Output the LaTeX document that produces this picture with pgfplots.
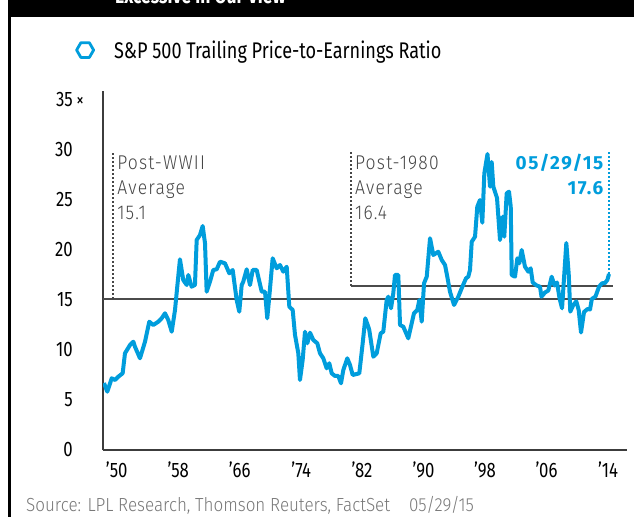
\documentclass[border=0pt]{standalone}
\usepackage{pgfplots}
\pgfplotsset{compat=1.18}
\usepackage{fontspec}
\setmainfont{Fira Sans}[FakeStretch=0.80]
\newfontfamily\lightfont{Fira Sans Light}[FakeStretch=0.88, LetterSpace=6]
\newfontfamily\srcfont{Fira Sans Light}[FakeStretch=0.90]
\newfontfamily\bluefont{Fira Sans}[FakeStretch=1.0, LetterSpace=8]
\usetikzlibrary{shapes.geometric}
\definecolor{lplblue}{RGB}{0,157,220}
\definecolor{avggray}{RGB}{75,75,75}
\definecolor{axgray}{RGB}{60,60,60}
\definecolor{txtgray}{RGB}{70,70,70}
\definecolor{srcgray}{RGB}{120,120,120}
\begin{document}
\begin{tikzpicture}
\useasboundingbox (0,0) rectangle (634bp,517bp);
\fill[white] (0,0) rectangle (634bp,517bp);
\fill[black] (8bp,500bp) rectangle (634bp,517bp);
\node[anchor=base west, text=white, font=\fontsize{22}{26}\selectfont\bfseries, inner sep=0pt] at (115bp,513bp) {Excessive in Our View};
\draw[black, line width=2.5bp] (9.5bp,0) -- (9.5bp,517bp);
\node[anchor=base west, inner sep=0pt, text=srcgray, font=\srcfont\fontsize{19}{22}\selectfont] at (26bp,6bp) {Source: LPL Research, Thomson Reuters, FactSet\quad 05/29/15};
\begin{axis}[
  at={(103bp,67bp)}, anchor=south west,
  scale only axis, width=524bp, height=359bp,
  xmin=1947.87, xmax=2017.73, ymin=0, ymax=35.9,
  axis x line=bottom, axis y line=left,
  axis line style={-, axgray, line width=1.8bp},
  major tick length=0pt,
  xtick={1949.7,1957.9,1966.1,1974.3,1982.4,1990.6,1998.8,2007.0,2015.2},
  xticklabels={’50,’58,’66,’74,’82,’90,’98,’06,’14},
  ytick={0,5,10,15,20,25,30,35},
  yticklabels={0,5,10,15,20,25,30,{35\rlap{\,\fontsize{19}{19}\selectfont ×}}},
  xticklabel style={anchor=north, inner sep=0pt, yshift=-12bp, font=\fontsize{21}{24}\selectfont},
  yticklabel style={anchor=east, inner sep=0pt, xshift=-30bp, font=\fontsize{21}{24}\selectfont},
  legend style={at={(axis description cs:-0.0534,1.114)}, anchor=west, draw=none, fill=none, inner sep=0pt, nodes={inner sep=0pt}, font=\fontsize{22.7}{26}\selectfont, column sep=19bp},
  legend cell align=left,
  legend image code/.code={\node[regular polygon, regular polygon sides=6, draw=lplblue, line width=2.8bp, minimum size=17bp, inner sep=0pt] at (8bp,0) {};},
]
\addplot[avggray, line width=2.6bp, forget plot] coordinates {(1947.87,15.1) (2015.8,15.1)};
\addplot[avggray, line width=2.6bp, forget plot] coordinates {(1980.93,16.4) (2015.8,16.4)};
\addplot[txtgray, line width=2.2bp, dash pattern=on 1.8bp off 2.2bp, forget plot] coordinates {(1949.2,15.1) (1949.2,29.8)};
\addplot[txtgray, line width=2.2bp, dash pattern=on 1.8bp off 2.2bp, forget plot] coordinates {(1980.93,16.4) (1980.93,29.8)};
\addplot[lplblue, line width=2.2bp, dash pattern=on 1.8bp off 2.2bp, forget plot] coordinates {(2015.33,17.6) (2015.33,29.8)};
\addplot[lplblue, line width=4bp, line join=round] coordinates {
(1948.0,6.7) (1948.44,5.83) (1949.03,7.17) (1949.47,7.0) (1949.91,7.33) (1950.49,7.67) (1950.8,9.67) (1951.47,10.5) (1951.91,10.83) (1952.13,10.33)
(1952.8,9.17) (1953.47,10.83) (1954.04,12.83) (1954.57,12.5) (1955.24,12.83) (1955.69,13.17) (1956.13,13.67) (1956.57,13.0) (1957.03,11.83) (1957.47,14.0)
(1957.77,16.33) (1958.13,19.07) (1958.57,17.0) (1959.03,16.5) (1959.24,17.5) (1959.69,16.33) (1960.13,16.5) (1960.36,21.0) (1960.8,21.5) (1961.16,22.4)
(1961.47,20.67) (1961.69,15.83) (1962.13,16.83) (1962.57,18.0) (1963.03,18.07) (1963.47,18.83) (1964.13,18.67) (1964.71,17.67) (1965.16,18.0) (1965.69,15.0)
(1966.04,13.83) (1966.36,16.5) (1966.57,16.83) (1967.03,18.07) (1967.47,16.5) (1967.83,18.0) (1968.36,18.0) (1969.03,15.83) (1969.47,15.83) (1969.77,13.17)
(1970.04,15.33) (1970.49,19.17) (1971.03,18.17) (1971.47,18.5) (1971.91,17.83) (1972.36,18.33) (1972.71,14.33) (1973.16,14.0) (1973.47,11.5) (1973.91,9.67)
(1974.13,7.0) (1974.49,9.0) (1974.8,11.83) (1975.11,10.67) (1975.47,11.73) (1975.91,11.0) (1976.44,10.67) (1976.8,9.67) (1977.24,9.17) (1977.69,8.17)
(1978.04,8.67) (1978.36,7.67) (1978.8,7.4) (1979.24,7.4) (1979.6,6.67) (1979.91,8.0) (1980.44,9.17) (1980.8,8.5) (1981.16,7.5) (1981.69,7.6)
(1982.04,7.67) (1982.49,10.67) (1982.84,13.17) (1983.24,12.33) (1983.37,12.0) (1983.91,9.33) (1984.36,9.67) (1984.89,11.67) (1985.24,11.83) (1985.69,15.0)
(1985.91,15.33) (1986.27,14.17) (1986.57,15.67) (1986.8,17.5) (1987.24,17.5) (1987.47,12.5) (1987.91,12.33) (1988.57,11.17) (1989.33,13.67) (1989.77,14.0)
(1990.04,15.0) (1990.36,12.83) (1990.67,16.67) (1991.03,17.33) (1991.47,21.17) (1991.91,19.5) (1992.57,19.83) (1993.03,19.0) (1993.47,18.5) (1993.77,17.33)
(1994.13,15.83) (1994.67,14.5) (1995.24,15.33) (1995.69,16.17) (1996.27,17.17) (1996.57,17.33) (1996.8,18.0) (1997.03,20.83) (1997.47,21.33) (1997.77,24.33)
(1998.13,25.0) (1998.44,22.73) (1998.71,27.67) (1999.13,29.6) (1999.47,26.33) (1999.69,28.8) (1999.91,26.33) (2000.4,25.2) (2000.8,21.0) (2001.16,23.33)
(2001.37,21.33) (2001.69,25.67) (2002.0,25.83) (2002.23,24.33) (2002.36,17.5) (2002.8,17.33) (2003.11,19.17) (2003.37,18.67) (2003.69,20.0) (2004.13,18.33)
(2004.57,17.83) (2004.89,18.17) (2005.16,16.75) (2005.69,16.45) (2006.13,16.33) (2006.33,15.33) (2006.8,15.75) (2007.24,15.95) (2007.69,17.33) (2008.07,16.45)
(2008.4,16.75) (2008.73,15.2) (2009.07,14.17) (2009.64,20.7) (2009.96,17.6) (2010.17,13.83) (2010.57,14.5) (2010.97,14.87) (2011.29,14.0) (2011.6,11.75)
(2012.0,13.8) (2012.47,14.1) (2012.8,14.05) (2013.04,15.1) (2013.53,15.35) (2014.0,16.33) (2014.4,16.67) (2014.8,16.7) (2015.11,17.0) (2015.33,17.6)
};
\addlegendentry{S\&P 500 Trailing Price-to-Earnings Ratio}
\node[anchor=north west, inner sep=0pt, align=left, text=txtgray, font=\lightfont\fontsize{20}{25}\selectfont] at (axis cs:1949.75,29.45) {Post-WWII\\Average\\15.1};
\node[anchor=north west, inner sep=0pt, align=left, text=txtgray, font=\lightfont\fontsize{20}{25}\selectfont] at (axis cs:1981.45,29.45) {Post-1980\\Average\\16.4};
\node[anchor=north east, inner sep=0pt, align=right, text=lplblue, font=\bluefont\bfseries\fontsize{19}{25}\selectfont] at (axis cs:2014.6,29.6) {05/29/15\\17.6};
\end{axis}
\end{tikzpicture}
\end{document}
